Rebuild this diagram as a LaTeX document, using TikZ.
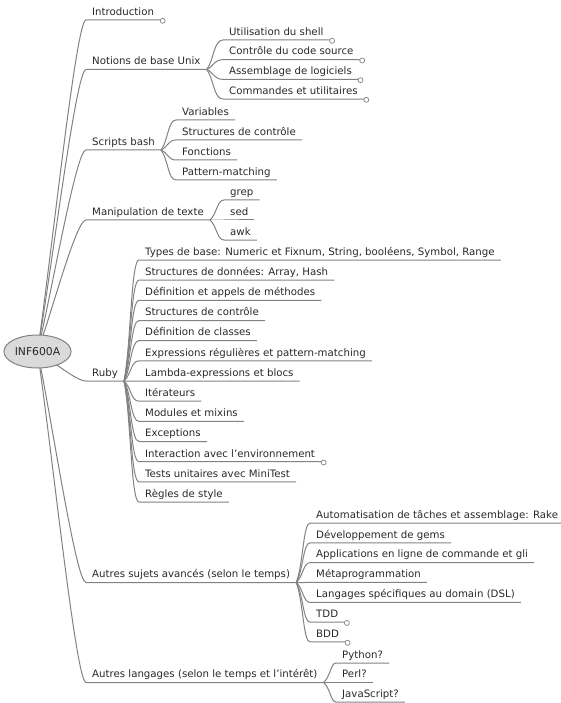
\documentclass[tikz,border=0pt]{standalone}
\usepackage{fontspec}
\setmainfont{DejaVu Sans}
\usetikzlibrary{calc,shapes.geometric}
\definecolor{lineGray}{RGB}{130,130,130}
\definecolor{textGray}{RGB}{40,40,40}
\definecolor{hubFill}{RGB}{218,218,218}

\begin{document}
\begin{tikzpicture}[x=1pt, y=-1pt,
    topic/.style={anchor=south west, inner xsep=6pt, inner ysep=1.5pt,
      text height=7.5pt, text depth=3pt, text=textGray,
      font=\fontsize{10.2}{12}\selectfont},
    link/.style={draw=lineGray, line width=1pt},
    trunk/.style={to path={let \p1=(\tikztostart), \p2=(\tikztotarget) in
      .. controls ({\x1+0.3*(\x2-\x1)},{\y1+0.3*(\y2-\y1)}) and (\x2-10pt,\y2) .. (\tikztotarget)}},
    branch/.style={to path={let \p1=(\tikztostart), \p2=(\tikztotarget) in
      .. controls (\x1+7pt,{\y1+0.3*(\y2-\y1)}) and (\x1+7pt,\y2) .. (\tikztotarget)}},
    leaf/.style={draw=lineGray, fill=white, line width=0.7pt}]
  \useasboundingbox (0,0) rectangle (560,703);
  \coordinate (hub) at (37.5,351.5);

  % Main topics
  \node[topic] (intro) at (86,20) {Introduction};
  \node[topic] (unix) at (86,69.5) {Notions de base Unix};
  \node[topic] (bash) at (86,150) {Scripts bash};
  \node[topic] (texte) at (86,220) {Manipulation de texte};
  \node[topic] (ruby) at (86,381) {Ruby};
  \node[topic] (avances) at (86,582.5) {Autres sujets avancés (selon le temps)};
  \node[topic] (langages) at (86,682.5) {Autres langages (selon le temps et l'intérêt)};
  \foreach \main in {intro, unix, bash, texte, ruby, avances, langages}
    \draw[link] (hub) to[trunk] (\main.south west) -- (\main.south east);
  \draw[leaf] ([xshift=2.5pt,yshift=-0.8pt]intro.south east) circle (2.5pt);

  % Notions de base Unix
  \foreach \t [count=\i from 0] in {Utilisation du shell, Contrôle du code source,
      Assemblage de logiciels, Commandes et utilitaires} {
    \node[topic] (unix\i) at (223,{40+19.67*\i}) {\t};
    \draw[link] (unix.south east) to[branch] (unix\i.south west) -- (unix\i.south east);
    \draw[leaf] ([xshift=2.5pt,yshift=-0.8pt]unix\i.south east) circle (2.5pt);
  }

  % Scripts bash
  \foreach \t [count=\i from 0] in {Variables, Structures de contrôle, Fonctions,
      Pattern-matching} {
    \node[topic] (bash\i) at (176,{120+20*\i}) {\t};
    \draw[link] (bash.south east) to[branch] (bash\i.south west) -- (bash\i.south east);
  }

  % Manipulation de texte
  \foreach \t [count=\i from 0] in {grep, sed, awk} {
    \node[topic] (texte\i) at (224,{200+20*\i}) {\t};
    \draw[link] (texte.south east) to[branch] (texte\i.south west) -- (texte\i.south east);
  }

  % Ruby
  \foreach \t [count=\i from 0] in {{Types de base: Numeric et Fixnum, String, booléens, Symbol, Range},
      {Structures de données: Array, Hash}, Définition et appels de méthodes,
      Structures de contrôle, Définition de classes,
      Expressions régulières et pattern-matching, Lambda-expressions et blocs,
      Itérateurs, Modules et mixins, Exceptions, Interaction avec l'environnement,
      Tests unitaires avec MiniTest, Règles de style} {
    \node[topic] (ruby\i) at (139,{260+20.17*\i}) {\t};
    \draw[link] (ruby.south east) to[branch] (ruby\i.south west) -- (ruby\i.south east);
  }
  \draw[leaf] ([xshift=2.5pt,yshift=-0.8pt]ruby10.south east) circle (2.5pt);

  % Autres sujets avances
  \foreach \t [count=\i from 0] in {Automatisation de tâches et assemblage: Rake,
      Développement de gems, Applications en ligne de commande et gli,
      Métaprogrammation, Langages spécifiques au domain (DSL), TDD, BDD} {
    \node[topic] (avances\i) at (310,{523+19.83*\i}) {\t};
    \draw[link] (avances.south east) to[branch] (avances\i.south west) -- (avances\i.south east);
  }
  \draw[leaf] ([xshift=2.5pt,yshift=-0.8pt]avances5.south east) circle (2.5pt);
  \draw[leaf] ([xshift=2.5pt,yshift=-0.8pt]avances6.south east) circle (2.5pt);

  % Autres langages
  \foreach \t [count=\i from 0] in {Python?, Perl?, JavaScript?} {
    \node[topic] (langages\i) at (336,{663+19.5*\i}) {\t};
    \draw[link] (langages.south east) to[branch] (langages\i.south west) -- (langages\i.south east);
  }

  % Central topic
  \node[ellipse, draw=lineGray, fill=hubFill, line width=1pt, text=textGray,
    minimum width=61pt, minimum height=33pt, inner sep=1pt,
    font=\fontsize{10.8}{12}\selectfont] (root) at (hub) {INF600A};
\end{tikzpicture}
\end{document}
